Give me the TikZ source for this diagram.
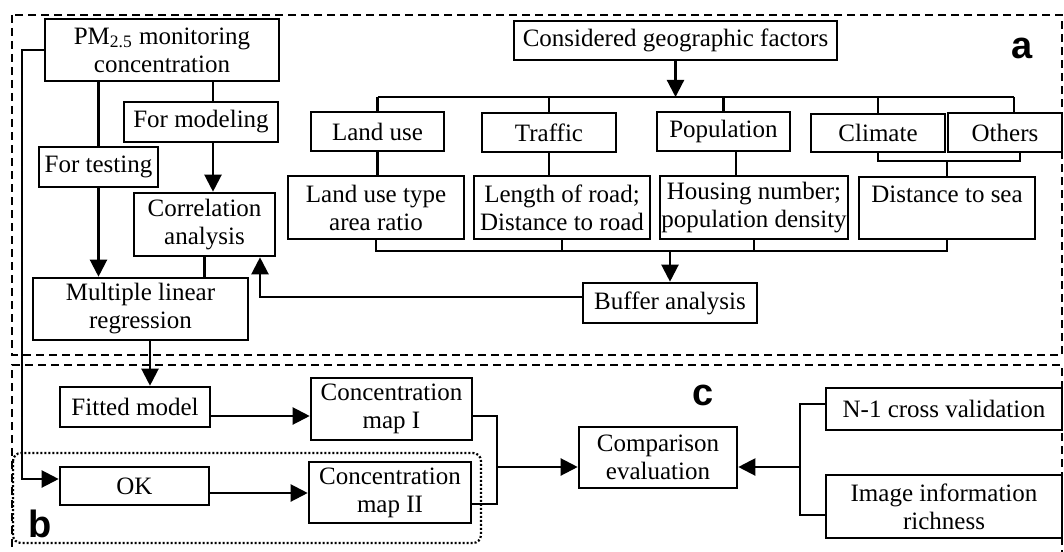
\documentclass[tikz,border=0pt]{standalone}
\usepackage{fontspec}
\setmainfont{Liberation Serif}
\newfontfamily\tagfont{Liberation Sans}
\usetikzlibrary{arrows.meta}

\begin{document}
\begin{tikzpicture}[x=0.5pt,y=-0.5pt,-,>={Triangle[length=8.5pt,width=8.5pt]},line width=1.1pt,
    main node/.style={draw,line width=1.3pt,align=center,inner sep=0.5pt,font=\fontsize{12.5}{14}\selectfont},
    part box/.style={line width=0.8pt,dash pattern=on 4pt off 2.5pt},
    dot box/.style={line width=1.1pt,dash pattern=on 1pt off 1pt,rounded corners=4pt},
    tag/.style={font=\tagfont\bfseries\fontsize{19}{19}\selectfont}]
    \useasboundingbox (0,0) rectangle (1064,551);
    \draw[part box] (12,15) rectangle (1062,355);
    \draw[part box] (12,560) -- (12,365) -- (1062,365) -- (1062,560);
    \draw[dot box] (13,453) rectangle (481,543);
    \node[tag] (a) at (1022,48) {a};
    \node[tag] (b) at (40,524) {b};
    \node[tag] (c) at (703,395) {c};

    \node[main node,minimum width=117pt,minimum height=31pt] (1) at (162,50) {PM\textsubscript{2.5} monitoring\\concentration};
    \node[main node,minimum width=161.5pt,minimum height=19.5pt] (2) at (675.5,40.5) {Considered geographic factors};
    \node[main node,minimum width=77pt,minimum height=20pt] (3) at (201,122) {For modeling};
    \node[main node,minimum width=59.5pt,minimum height=20pt] (4) at (98.5,167) {For testing};
    \node[main node,minimum width=70.5pt,minimum height=31.5pt] (5) at (204.5,224.5) {Correlation\\analysis};
    \node[main node,minimum width=107.5pt,minimum height=31pt] (6) at (140.5,309) {Multiple linear\\regression};
    \node[main node,minimum width=66.5pt,minimum height=19.5pt] (7) at (377.5,131.5) {Land use};
    \node[main node,minimum width=67pt,minimum height=19.5pt] (8) at (549,132.5) {Traffic};
    \node[main node,minimum width=66.5pt,minimum height=19.5pt] (9) at (723.5,131.5) {Population};
    \node[main node,minimum width=67pt,minimum height=19pt] (10) at (878,133) {Climate};
    \node[main node,minimum width=57pt,minimum height=19.5pt] (11) at (1005,132.5) {Others};
    \node[main node,minimum width=88pt,minimum height=31.5pt] (12) at (376,207.5) {Land use type\\area ratio};
    \node[main node,minimum width=88pt,minimum height=31.5pt] (13) at (562,207.5) {Length of road;\\Distance to road};
    \node[main node,minimum width=94pt,minimum height=31.5pt] (14) at (754,207.5) {Housing number;\\population density};
    \node[main node,minimum width=88pt,minimum height=31pt] (15) at (947,208) {Distance to sea\\\mbox{}};
    \node[main node,minimum width=87pt,minimum height=20pt] (16) at (670,303) {Buffer analysis};
    \node[main node,minimum width=75pt,minimum height=20pt] (17) at (135,407) {Fitted model};
    \node[main node,minimum width=80.5pt,minimum height=31pt] (18) at (391.5,409) {Concentration\\map I};
    \node[main node,minimum width=74.5pt,minimum height=19pt] (19) at (134.5,486) {OK};
    \node[main node,minimum width=81pt,minimum height=30.5pt] (20) at (390,492.5) {Concentration\\map II};
    \node[main node,minimum width=79pt,minimum height=30.5pt] (21) at (658,457.5) {Comparison\\evaluation};
    \node[main node,minimum width=118pt,minimum height=21pt] (22) at (944,409) {N-1 cross validation};
    \node[main node,minimum width=118pt,minimum height=31.5pt] (23) at (944,506.5) {Image information\\richness};

    \coordinate (r1) at (0,97);
    \coordinate (r2) at (0,251);
    \coordinate (r3) at (0,161);
    \coordinate (r4) at (0,297);
    \coordinate (r5) at (0,416);
    \coordinate (r6) at (0,493);
    \coordinate (gx) at (213,0);
    \coordinate (bx) at (260,0);
    \coordinate (mx) at (150,0);
    \coordinate (px) at (736,0);
    \coordinate (ox) at (1014,0);
    \coordinate (ob) at (1020,0);
    \coordinate (k1) at (22,479);
    \coordinate (j1) at (497,467);
    \coordinate (j2) at (497,504);
    \coordinate (q1) at (800,404);
    \coordinate (q2) at (800,515);
    \coordinate (q3) at (800,467);

    \path
        (1.south -| 4) edge (4.north)
        (4.south) edge[->] (4.south |- 6.north)
        (gx |- 1.south) edge (gx |- 3.north)
        (gx |- 3.south) edge[->] (gx |- 5.north)
        (5.south) edge (5.south |- 6.north)
        (2.south) edge[->] (2.south |- r1)
        (7.north |- r1) edge (ox |- r1)
        (7.north |- r1) edge (7.north)
        (8.north |- r1) edge (8.north)
        (9.north |- r1) edge (9.north)
        (10.north |- r1) edge (10.north)
        (ox |- r1) edge (ox |- 11.north)
        (7.south) edge (7.south |- 12.north)
        (8.south) edge (8.south |- 13.north)
        (px |- 9.south) edge (px |- 14.north)
        (15.north |- r3) edge (15.north)
        (13.south) edge (13.south |- r2)
        (14.south) edge (14.south |- r2)
        (16.north |- r2) edge[->] (16.north)
        (mx |- 6.south) edge[->] (mx |- 17.north)
        (17.east |- r5) edge[->] (18.west |- r5)
        (19.east |- r6) edge[->] (20.west |- r6)
        (j1) edge[->] (j1 -| 21.west)
        (q3) edge[->] (q3 -| 21.east)
        ;
    \draw (10.south) |- (ob |- r3) -- (ob |- 11.south);
    \draw (12.south) |- (15.south |- r2) -- (15.south);
    \draw[->] (16.west |- r4) -| (bx |- 5.south);
    \draw[->] (1.west) -| (k1) -- (k1 -| 19.west);
    \draw (18.east |- r5) -| (j2) -- (j2 -| 20.east);
    \draw (22.west |- q1) -- (q1) -- (q2) -- (23.west |- q2);
\end{tikzpicture}
\end{document}
